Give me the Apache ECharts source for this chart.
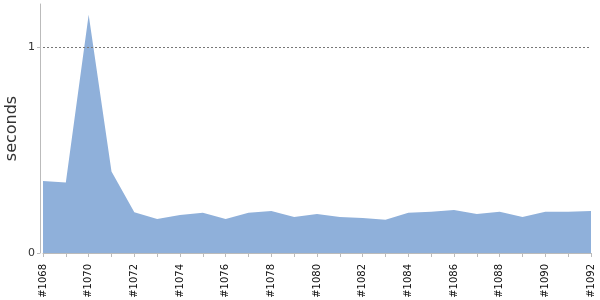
<!DOCTYPE html>
<html><head><meta charset="utf-8">
<script src="https://cdn.jsdelivr.net/npm/echarts@6/dist/echarts.min.js"></script>
<style>html,body{margin:0;padding:0;background:#fff}#c{width:600px;height:300px}</style>
</head><body><div id="c"></div>
<script>
const categories = ['#1068','#1069','#1070','#1071','#1072','#1073','#1074','#1075','#1076','#1077','#1078','#1079','#1080','#1081','#1082','#1083','#1084','#1085','#1086','#1087','#1088','#1089','#1090','#1091','#1092'];
const seconds = [0.350,0.342,1.158,0.396,0.198,0.165,0.185,0.196,0.165,0.196,0.204,0.175,0.190,0.175,0.170,0.161,0.196,0.201,0.209,0.190,0.200,0.175,0.200,0.200,0.204];
const yTicks = [0, 1];

const chart = echarts.init(document.getElementById('c'), null, {renderer:'canvas'});
chart.setOption({
  animation:false,
  grid:{left:43,right:9,top:4,bottom:47,outerBoundsMode:'none',containLabel:false},
  xAxis:{
    type:'category', data:categories, boundaryGap:false, offset:4,
    axisLine:{lineStyle:{color:'#bbb'}},
    axisTick:{alignWithLabel:true,interval:0,length:4,lineStyle:{color:'#bbb'}},
    axisLabel:{interval:1,rotate:90,color:'#111',fontSize:10,fontFamily:'DejaVu Sans',margin:7}
  },
  yAxis:{
    type:'value', min:0, max:1.21, offset:3,
    name:'seconds', nameLocation:'middle', nameGap:20, nameMoveOverlap:false,
    nameTextStyle:{fontSize:16,color:'#333',fontFamily:'DejaVu Sans'},
    axisLine:{show:true,lineStyle:{color:'#bbb'}},
    axisTick:{show:true,length:3,customValues:yTicks,lineStyle:{color:'#bbb'}},
    axisLabel:{customValues:yTicks,color:'#333',fontSize:11,fontFamily:'DejaVu Sans',margin:5},
    splitLine:{show:false}
  },
  series:[{
    type:'line', data:seconds, symbol:'none',
    lineStyle:{width:0}, areaStyle:{color:'#8fb0da',opacity:1},
    markLine:{silent:true,symbol:'none',label:{show:false},
      lineStyle:{color:'#777',type:[2,2],width:1},
      data:[{yAxis:1}]}
  }]
});
</script></body></html>
